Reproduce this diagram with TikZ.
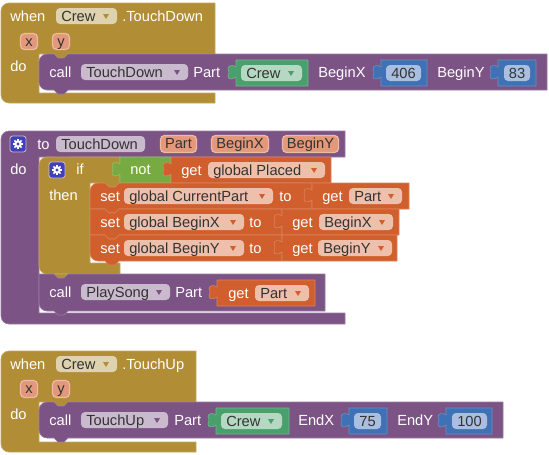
\documentclass[tikz,border=0pt]{standalone}
\usepackage{fontspec}
\setmainfont{Liberation Sans}
\definecolor{goldc}{HTML}{B18E35}
\definecolor{purc}{HTML}{7C5385}
\definecolor{grnc}{HTML}{49A06D}
\definecolor{bluc}{HTML}{3F71B5}
\definecolor{orgc}{HTML}{D05F2D}
\definecolor{logc}{HTML}{77AB41}
\definecolor{gearc}{HTML}{4040B8}
\definecolor{ddgold}{HTML}{DFD2AE}
\definecolor{ddpur}{HTML}{CABACE}
\definecolor{ddgrn}{HTML}{B4D8C2}
\definecolor{ddblu}{HTML}{AABFE0}
\definecolor{ddorg}{HTML}{EEBFAB}
\definecolor{prmfill}{HTML}{E3987A}
\definecolor{prmedge}{HTML}{EDBBA3}
\definecolor{darktxt}{HTML}{333333}
\tikzset{
  lbl/.style={font=\fontsize{11pt}{13pt}\selectfont,text=white,inner sep=0pt,anchor=base west},
  dlbl/.style={lbl,text=darktxt},
  blockshape/.style={fill=#1,draw=#1!78!white,line width=.45pt,line join=round},
}
% statement block: x1 x2 y1 y2 colour rtop rbot
\newcommand{\sblk}[7]{%
  \path[blockshape=#5] (#1,#3+#6) .. controls (#1,#3+#6*.45) and (#1+#6*.45,#3) .. (#1+#6,#3)
   -- (#1+15,#3) -- (#1+19,#3+4) -- (#1+25,#3+4) -- (#1+29,#3) -- (#2,#3) -- (#2,#4)
   -- (#1+29,#4) -- (#1+25,#4+4) -- (#1+19,#4+4) -- (#1+15,#4) -- (#1+#7,#4)
   .. controls (#1+#7*.45,#4) and (#1,#4-#7*.45) .. (#1,#4-#7) -- cycle;}
% C block: x1 xhead xin ytop yhead ybar1 ybar2 xbar colour
\newcommand{\cblk}[9]{%
  \path[blockshape=#9] (#1,#4+8) .. controls (#1,#4+3.6) and (#1+3.6,#4) .. (#1+8,#4)
   -- (#2,#4) -- (#2,#5) -- (#3+29,#5) -- (#3+25,#5+4) -- (#3+19,#5+4) -- (#3+15,#5) -- (#3,#5)
   -- (#3,#6) -- (#8,#6) -- (#8,#7) -- (#1+8,#7)
   .. controls (#1+3.6,#7) and (#1,#7-3.6) .. (#1,#7-8) -- cycle;}
% value block with left tab: x1 x2 y1 y2 colour
\newcommand{\vblk}[5]{%
  \path[blockshape=#5] (#1,#3) -- (#2,#3) -- (#2,#4) -- (#1,#4) -- (#1,#3+17)
   .. controls (#1-3,#3+19.5) and (#1-8,#3+20) .. (#1-8,#3+16) -- (#1-7,#3+12) -- (#1-8,#3+9)
   .. controls (#1-8,#3+5) and (#1-3,#3+4.5) .. (#1,#3+7) -- cycle;}
% dropdown: name x1 x2 y1 fill arrow text
\newcommand{\ddn}[7]{%
  \fill[#5,rounded corners=3pt] (#2,#4) rectangle (#3,#4+16);
  \fill[#6] (#3-14,#4+6) -- (#3-8,#4+6) -- (#3-11,#4+11) -- cycle;
  \node[dlbl] (#1) at (#2+5,#4+13) {#7};}
% number field: name x1 x2 y1 text
\newcommand{\numf}[5]{%
  \fill[ddblu,rounded corners=3pt] (#2,#4) rectangle (#3,#4+16);
  \node[dlbl,anchor=base] (#1) at ({(#2+#3)/2},#4+13) {#5};}
% parameter: name x1 x2 y1 y2 text
\newcommand{\prm}[6]{%
  \draw[fill=prmfill,draw=prmedge,line width=.9pt,rounded corners=3pt] (#2+.5,#4+.5) rectangle (#3-.5,#5-.5);
  \node[dlbl,anchor=base] (#1) at ({(#2+#3)/2},#4+13.5) {#6};}
% gear icon: x y (top left)
\newcommand{\gearic}[2]{%
  \draw[fill=gearc,draw=ddpur,line width=.6pt,rounded corners=2pt] (#1,#2) rectangle (#1+16,#2+16);
  \foreach \a in {0,45,...,315}{\draw[white,line width=1.1pt] (#1+8,#2+8) -- ++(\a:5);}
  \fill[white] (#1+8,#2+8) circle[radius=3.8];
  \fill[gearc] (#1+8,#2+8) circle[radius=1.7];}
\begin{document}
\begin{tikzpicture}[x=.75pt,y=-.75pt]
\useasboundingbox (0,0) rectangle (549,454);
% ---------- block 1
\cblk{1}{215}{39}{3}{54}{93}{103}{215}{goldc}
\node[lbl] (w1) at (10,21) {when};
\ddn{c1}{56}{117}{8}{ddgold}{goldc}{Crew}
\node[lbl] (td1) at (122,21) {.TouchDown};
\prm{x1}{20}{38}{33}{50}{x}
\prm{y1}{52}{70}{33}{50}{y}
\node[lbl] (do1) at (10,71) {do};
\sblk{39}{547}{54}{90}{purc}{8}{8}
\node[lbl] (call1) at (49,77) {call};
\ddn{d1}{81}{188}{64}{ddpur}{purc}{TouchDown}
\node[lbl] (p1) at (193,77) {Part};
\vblk{236}{308}{60}{86}{grnc}
\ddn{c2}{241}{302}{65}{ddgrn}{grnc}{Crew}
\node[lbl] (bx1) at (318,77) {BeginX};
\vblk{381}{427}{60}{86}{bluc}
\numf{n1}{386}{421}{65}{406}
\node[lbl] (by1) at (437,77) {BeginY};
\vblk{498}{536}{60}{86}{bluc}
\numf{n2}{504}{530}{65}{83}
% ---------- block 2
\cblk{1}{345}{39}{131}{157}{313}{324}{345}{purc}
\gearic{10}{136}
\node[lbl] (to2) at (37,149) {to};
\fill[ddpur,rounded corners=3pt] (56,136) rectangle (145,152);
\node[dlbl] (td2) at (61,149) {TouchDown};
\prm{pp}{160}{197}{135}{153}{Part}
\prm{px}{211}{269}{135}{153}{BeginX}
\prm{py}{282}{339}{135}{153}{BeginY}
\node[lbl] (do2) at (10,174) {do};
% if
\cblk{39}{120}{90}{157}{183}{263}{274}{120}{goldc}
\path[blockshape=goldc] (54,274) -- (58,278) -- (64,278) -- (68,274) -- cycle;
\gearic{49}{162}
\node[lbl] (if2) at (76,174) {if};
\node[lbl] (then2) at (49,200) {then};
\vblk{120}{171}{157}{183}{logc}
\node[lbl] (not2) at (130,174) {not};
\vblk{171}{331}{157}{183}{orgc}
\node[lbl] (get0) at (181,175) {get};
\ddn{g0}{208}{325}{162}{ddorg}{orgc}{global Placed}
% sets
\sblk{90}{312}{183}{209}{orgc}{8}{0}
\node[lbl] (s1) at (100,201) {set};
\ddn{v1}{124}{273}{188}{ddorg}{orgc}{global CurrentPart}
\node[lbl] (t1) at (279,201) {to};
\vblk{312}{409}{183}{209}{orgc}
\node[lbl] (g1) at (322,201) {get};
\ddn{a1}{349}{402}{188}{ddorg}{orgc}{Part}
\sblk{90}{282}{209}{235}{orgc}{0}{0}
\node[lbl] (s2) at (100,227) {set};
\ddn{v2}{124}{244}{214}{ddorg}{orgc}{global BeginX}
\node[lbl] (t2) at (249,227) {to};
\vblk{282}{399}{209}{235}{orgc}
\node[lbl] (g2) at (292,227) {get};
\ddn{a2}{319}{393}{214}{ddorg}{orgc}{BeginX}
\sblk{90}{282}{235}{261}{orgc}{0}{8}
\node[lbl] (s3) at (100,253) {set};
\ddn{v3}{124}{244}{240}{ddorg}{orgc}{global BeginY}
\node[lbl] (t3) at (249,253) {to};
\vblk{282}{397}{235}{261}{orgc}
\node[lbl] (g3) at (292,253) {get};
\ddn{a3}{318}{392}{240}{ddorg}{orgc}{BeginY}
% call PlaySong
\sblk{39}{325}{274}{311}{purc}{0}{8}
\node[lbl] (call2) at (49,297) {call};
\ddn{d2}{81}{170}{284}{ddpur}{purc}{PlaySong}
\node[lbl] (p2) at (175,297) {Part};
\vblk{217}{315}{280}{306}{orgc}
\node[lbl] (g4) at (228,298) {get};
\ddn{a4}{255}{309}{285}{ddorg}{orgc}{Part}
% ---------- block 3
\cblk{1}{196}{39}{351}{402}{442}{452}{196}{goldc}
\node[lbl] (w3) at (10,369) {when};
\ddn{c3}{56}{117}{356}{ddgold}{goldc}{Crew}
\node[lbl] (tu3) at (122,369) {.TouchUp};
\prm{x3}{20}{38}{380}{398}{x}
\prm{y3}{52}{70}{380}{398}{y}
\node[lbl] (do3) at (10,419) {do};
\sblk{39}{503}{402}{438}{purc}{8}{8}
\node[lbl] (call3) at (49,425) {call};
\ddn{d3}{81}{168}{412}{ddpur}{purc}{TouchUp}
\node[lbl] (p3) at (174,425) {Part};
\vblk{216}{289}{408}{434}{grnc}
\ddn{c4}{221}{282}{413}{ddgrn}{grnc}{Crew}
\node[lbl] (ex) at (298,425) {EndX};
\vblk{349}{387}{408}{434}{bluc}
\numf{n3}{354}{381}{413}{75}
\node[lbl] (ey) at (397,425) {EndY};
\vblk{446}{492}{408}{434}{bluc}
\numf{n4}{452}{487}{413}{100}
\end{tikzpicture}
\end{document}
